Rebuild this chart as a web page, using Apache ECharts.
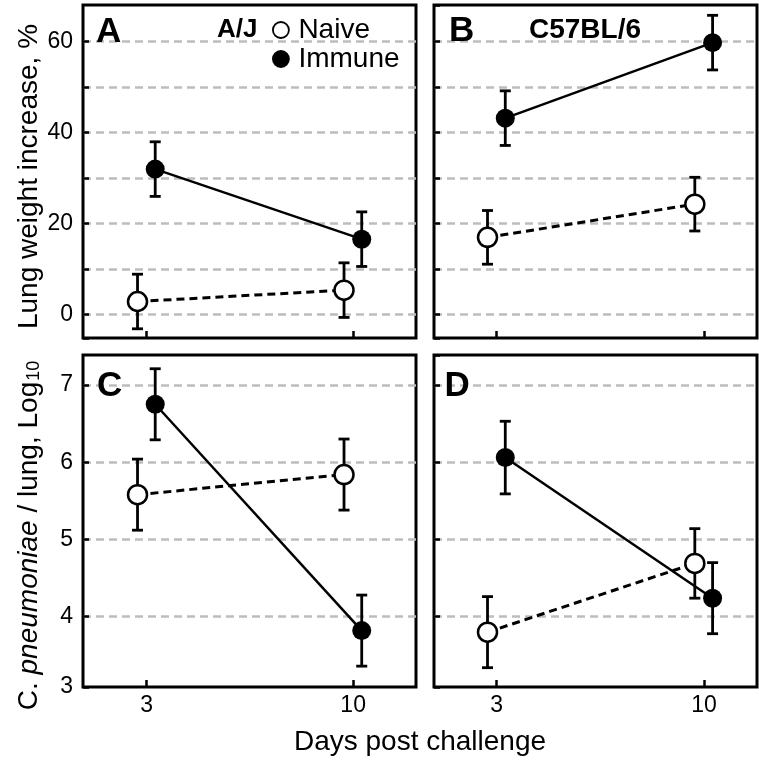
<!DOCTYPE html>
<html><head><meta charset="utf-8">
<script src="https://cdn.jsdelivr.net/npm/echarts@6/dist/echarts.min.js"></script>
<style>html,body{margin:0;padding:0;background:#fff}#c{width:759px;height:761px}</style>
</head><body><div id="c"></div><script>
// ---- data ----
const days = [3, 10];
const groupNames = ['Naive', 'Immune'];
const panelLabels = ['A', 'B', 'C', 'D'];
const strainLabels = ['A/J', 'C57BL/6'];
const xTicks = [3, 10];
const weightTicks = [0, 20, 40, 60];
const loadTicks = [3, 4, 5, 6, 7];
// Lung weight increase, %
const ajWeightNaive = [2.9, 5.4];
const ajWeightNaiveErr = [6.0, 6.0];
const ajWeightImmune = [32.0, 16.6];
const ajWeightImmuneErr = [6.0, 6.0];
const b6WeightNaive = [17.0, 24.3];
const b6WeightNaiveErr = [5.9, 5.9];
const b6WeightImmune = [43.2, 59.8];
const b6WeightImmuneErr = [6.0, 6.0];
// C. pneumoniae / lung, Log10
const ajLoadNaive = [5.58, 5.84];
const ajLoadNaiveErr = [0.46, 0.46];
const ajLoadImmune = [6.75, 3.82];
const ajLoadImmuneErr = [0.46, 0.46];
const b6LoadNaive = [3.80, 4.69];
const b6LoadNaiveErr = [0.46, 0.45];
const b6LoadImmune = [6.06, 4.24];
const b6LoadImmuneErr = [0.47, 0.46];

// ---- style ----
const FONT = 'Liberation Sans, Arial, Helvetica, sans-serif';
const DODGE = { Naive: -0.31, Immune: 0.29 };
const grids = [
  { left: 83, top: 5, width: 333, height: 333 },
  { left: 434, top: 5, width: 323, height: 333 },
  { left: 83, top: 355, width: 333, height: 332 },
  { left: 434, top: 355, width: 323, height: 332 }
];
const xRanges = [[0.842, 12.13], [0.883, 11.79], [0.842, 12.13], [0.883, 11.79]];

const chart = echarts.init(document.getElementById('c'), null, { renderer: 'canvas' });

function xAxisCfg(i) {
  return {
    type: 'value', gridIndex: i, min: xRanges[i][0], max: xRanges[i][1],
    axisLine: { show: false, onZero: false },
    axisTick: { show: true, inside: true, length: 7, customValues: xTicks, lineStyle: { color: '#000', width: 2.5 } },
    axisLabel: { show: i >= 2, customValues: xTicks, fontSize: 23, color: '#000', fontFamily: FONT, margin: 7 },
    splitLine: { show: false }
  };
}
function yAxisCfg(i) {
  const weight = i < 2;
  const cfg = {
    type: 'value', gridIndex: i,
    min: weight ? -5.12 : 3.09, max: weight ? 68.07 : 7.388,
    minInterval: weight ? 10 : 1, maxInterval: weight ? 10 : 1,
    axisLine: { show: false, onZero: false },
    axisTick: { show: true, inside: true, length: 6, lineStyle: { color: '#000', width: 2.5 } },
    axisLabel: {
      show: i % 2 === 0, fontSize: 23, color: '#000', fontFamily: FONT, margin: 10,
      showMaxLabel: false,
      formatter: function (v) {
        const ticks = weight ? weightTicks : loadTicks;
        const r = Math.round(v);
        return (ticks.indexOf(r) >= 0 && Math.abs(v - r) < 0.1) ? String(r) : '';
      }
    },
    splitLine: { show: true, showMinLine: false, showMaxLine: false, lineStyle: { color: '#bdbdbd', width: 2.5, type: [8, 5] } }
  };
  if (i === 0) {
    cfg.name = 'Lung weight increase, %';
    cfg.nameLocation = 'middle';
    cfg.nameGap = 40;
    cfg.nameTextStyle = { fontSize: 28, color: '#000', fontFamily: FONT, padding: [0, 10, 0, 0] };
  }
  if (i === 2) {
    cfg.name = '{a|C. }{i|pneumoniae}{a| / lung, Log}{s|10}';
    cfg.nameLocation = 'middle';
    cfg.nameGap = 40;
    cfg.nameTextStyle = {
      fontSize: 28, color: '#000', fontFamily: FONT, padding: [0, 29, 0, 0],
      rich: {
        a: { fontSize: 28, color: '#000', fontFamily: FONT, lineHeight: 28, verticalAlign: 'top' },
        i: { fontSize: 28, color: '#000', fontFamily: FONT, fontStyle: 'italic', lineHeight: 28, verticalAlign: 'top' },
        s: { fontSize: 18, color: '#000', fontFamily: FONT, lineHeight: 18, verticalAlign: 'bottom', padding: [13, 0, 0, 1] }
      }
    };
  }
  return cfg;
}
function errSeries(i, vals, errs, name) {
  return {
    type: 'custom', xAxisIndex: i, yAxisIndex: i, z: 1, silent: true, clip: false,
    data: days.map((d, k) => [d + DODGE[name], vals[k] - errs[k], vals[k] + errs[k]]),
    renderItem: function (params, api) {
      const lo = api.coord([api.value(0), api.value(1)]);
      const hi = api.coord([api.value(0), api.value(2)]);
      const w = 5.5;
      const style = { stroke: '#000', lineWidth: 2.8 };
      return {
        type: 'group', children: [
          { type: 'line', shape: { x1: lo[0], y1: lo[1], x2: hi[0], y2: hi[1] }, style: style },
          { type: 'line', shape: { x1: lo[0] - w, y1: lo[1], x2: lo[0] + w, y2: lo[1] }, style: style },
          { type: 'line', shape: { x1: hi[0] - w, y1: hi[1], x2: hi[0] + w, y2: hi[1] }, style: style }
        ]
      };
    }
  };
}
function lineSeries(i, vals, name) {
  const naive = name === 'Naive';
  return {
    type: 'line', name: name, xAxisIndex: i, yAxisIndex: i, z: 3,
    data: days.map((d, k) => [d + DODGE[name], vals[k]]),
    symbol: 'circle', symbolSize: 19, showSymbol: true,
    itemStyle: naive ? { color: '#fff', borderColor: '#000', borderWidth: 2.5 } : { color: '#000', borderColor: '#000', borderWidth: 0 },
    lineStyle: { color: '#000', width: naive ? 3 : 2.5, type: naive ? [8, 5] : 'solid' },
    emphasis: { disabled: true }, silent: true
  };
}
const panels = [
  [ajWeightNaive, ajWeightNaiveErr, ajWeightImmune, ajWeightImmuneErr],
  [b6WeightNaive, b6WeightNaiveErr, b6WeightImmune, b6WeightImmuneErr],
  [ajLoadNaive, ajLoadNaiveErr, ajLoadImmune, ajLoadImmuneErr],
  [b6LoadNaive, b6LoadNaiveErr, b6LoadImmune, b6LoadImmuneErr]
];
const series = [];
panels.forEach((p, i) => {
  series.push(errSeries(i, p[0], p[1], 'Naive'));
  series.push(errSeries(i, p[2], p[3], 'Immune'));
  series.push(lineSeries(i, p[0], 'Naive'));
  series.push(lineSeries(i, p[2], 'Immune'));
});

function txt(text, x, y, size, bold, align) {
  return {
    type: 'text', x: x, y: y, z: 10, silent: true,
    style: {
      text: text, fill: '#000', font: (bold ? 'bold ' : '') + size + 'px ' + FONT,
      fontSize: size, fontWeight: bold ? 'bold' : 'normal', fontFamily: FONT,
      align: align || 'left', textAlign: align || 'left',
      verticalAlign: 'middle', textVerticalAlign: 'middle'
    }
  };
}
const letterPos = [[96, 32.5], [449, 31], [97, 386.7], [444.5, 386.7]];

chart.setOption({
  animation: false,
  backgroundColor: '#fff',
  grid: grids.map(g => Object.assign({ show: true, borderColor: '#000', borderWidth: 3, backgroundColor: 'transparent', containLabel: false, outerBoundsMode: 'none' }, g)),
  xAxis: [0, 1, 2, 3].map(xAxisCfg),
  yAxis: [0, 1, 2, 3].map(yAxisCfg),
  legend: {
    data: groupNames, orient: 'vertical', left: 272, top: 16, padding: 0,
    itemWidth: 25, itemHeight: 16, itemGap: 1, icon: 'circle', selectedMode: false,
    itemStyle: { borderWidth: 1.8 },
    textStyle: { fontSize: 28, color: '#000', fontFamily: FONT }
  },
  graphic: [
    txt(panelLabels[0], letterPos[0][0], letterPos[0][1], 35, true),
    txt(panelLabels[1], letterPos[1][0], letterPos[1][1], 35, true),
    txt(panelLabels[2], letterPos[2][0], letterPos[2][1], 35, true),
    txt(panelLabels[3], letterPos[3][0], letterPos[3][1], 35, true),
    txt(strainLabels[0], 217, 30, 26, true),
    txt(strainLabels[1], 529, 30, 28, true),
    txt('Days post challenge', 420, 742, 28, false, 'center')
  ],
  series: series
});
</script></body></html>
